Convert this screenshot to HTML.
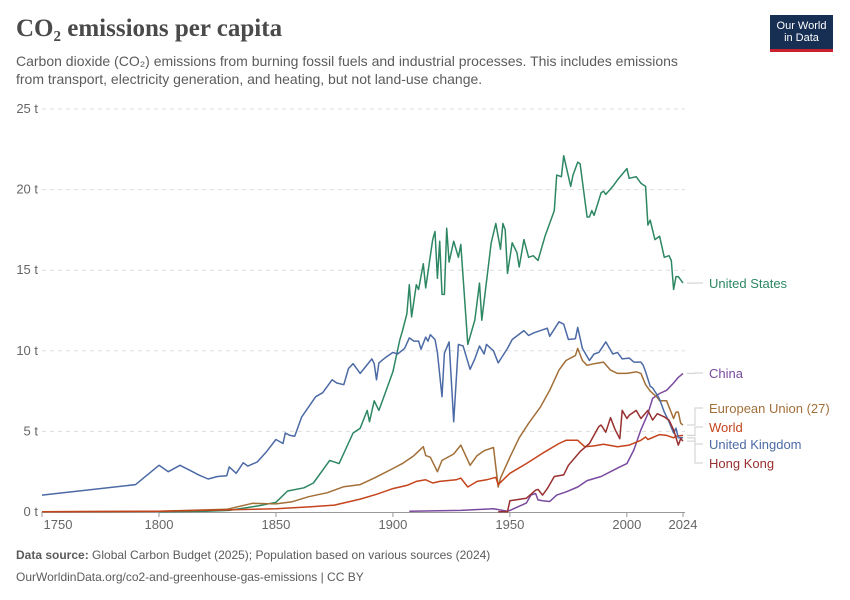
<!DOCTYPE html>
<html><head><meta charset="utf-8">
<style>
body{margin:0;width:850px;height:600px;background:#fff;font-family:"Liberation Sans",sans-serif;overflow:hidden;position:relative}
.title{position:absolute;left:16px;top:15px;font-family:"Liberation Serif",serif;font-size:25px;font-weight:bold;color:#4a4a4a}
.sub{position:absolute;left:16px;top:52px;font-size:14px;line-height:18px;color:#5b5b5b;width:692px}
.logo{position:absolute;left:770px;top:15px;width:63px;height:37px;background:#172f52;border-bottom:3px solid #c8202f;color:#fff;font-size:11px;line-height:12px;text-align:center;padding-top:5px;box-sizing:border-box}
.foot{position:absolute;left:16px;font-size:12px;color:#5b5b5b}
</style></head><body>
<div class="title">CO₂ emissions per capita</div>
<div class="sub">Carbon dioxide (CO₂) emissions from burning fossil fuels and industrial processes. This includes emissions from transport, electricity generation, and heating, but not land-use change.</div>
<div class="logo">Our World<br>in Data</div>
<div class="foot" style="top:548px"><b>Data source:</b> Global Carbon Budget (2025); Population based on various sources (2024)</div>
<div class="foot" style="top:570px">OurWorldinData.org/co2-and-greenhouse-gas-emissions | CC BY</div>
<svg id="chart" width="850" height="600" style="position:absolute;left:0;top:0"></svg>
<script>
const yTicks=[0,5,10,15,20,25];
const xTicks=[1750,1800,1850,1900,1950,2000,2024];
const usYears=[1800,1820,1830,1843,1850,1855,1862,1866,1873,1877,1883,1886,1889,1890,1892,1894,1896,1900,1903,1904,1906,1907,1908,1910,1911,1913,1914,1917,1918,1919,1920,1921,1922,1923,1924,1926,1928,1929,1932,1935,1937,1938,1942,1944,1946,1947,1948,1949,1951,1953,1954,1956,1958,1960,1962,1965,1969,1970,1972,1973,1976,1977,1979,1980,1983,1984,1985,1986,1989,1990,1991,1994,1996,2000,2001,2004,2006,2008,2009,2010,2012,2014,2016,2018,2019,2020,2021,2022,2024];
const usVals=[0.02,0.05,0.1,0.4,0.6,1.3,1.5,1.8,3.2,3.0,4.9,5.2,6.3,5.6,6.9,6.3,7.1,8.7,10.7,11.2,12.3,14.1,12.1,14.1,13.8,15.4,13.9,16.9,17.4,14.5,16.8,13.5,13.5,17.6,15.5,16.8,15.8,16.6,10.4,11.9,14.2,11.9,16.7,17.9,16.3,17.9,17.5,14.8,16.7,16.1,15.2,16.9,15.8,15.9,15.6,17.1,18.7,20.9,20.8,22.1,20.2,20.9,21.7,21.6,18.3,18.3,18.7,18.4,19.8,19.9,19.7,20.2,20.6,21.3,20.7,20.8,20.4,20.2,17.8,18.1,16.9,17.1,15.8,15.9,15.6,13.8,14.6,14.6,14.2];
const ukYears=[1750,1790,1800,1804,1809,1813,1817,1821,1825,1829,1830,1833,1836,1838,1842,1846,1850,1853,1854,1856,1858,1861,1867,1870,1874,1876,1879,1881,1883,1886,1891,1892,1893,1894,1897,1900,1902,1905,1907,1909,1911,1912,1914,1915,1916,1918,1919,1921,1922,1924,1926,1928,1930,1933,1935,1937,1939,1940,1943,1945,1949,1951,1956,1958,1960,1966,1967,1971,1973,1975,1978,1979,1981,1984,1986,1988,1991,1994,1996,1998,2001,2003,2006,2007,2008,2010,2011,2013,2014,2016,2018,2020,2021,2022,2024];
const ukVals=[1.05,1.7,2.9,2.5,2.9,2.6,2.3,2.05,2.2,2.25,2.8,2.4,3.05,2.85,3.1,3.75,4.5,4.25,4.9,4.75,4.7,5.9,7.15,7.4,8.2,8.0,7.9,8.9,9.2,8.6,9.5,9.2,8.2,9.25,9.6,9.9,9.8,10.15,10.8,10.6,10.6,10.1,10.85,10.6,11,10.7,9.9,7.15,9.85,10.55,5.6,10.4,10.3,8.85,9.5,10.3,9.8,10.4,10.0,9.25,10.15,10.7,11.25,10.95,11.1,11.4,10.9,11.8,11.65,10.7,10.75,11.45,10.15,9.4,9.8,9.9,10.55,9.8,9.9,9.5,9.55,9.3,9.3,9.1,8.7,7.8,7.7,7.25,7.0,6.2,5.6,4.9,5.2,4.6,4.6];
const euYears=[1750,1800,1829,1840,1850,1857,1864,1872,1879,1886,1892,1900,1904,1909,1913,1914,1916,1919,1921,1926,1929,1933,1936,1939,1943,1945,1946,1950,1954,1958,1963,1967,1971,1974,1978,1979,1981,1983,1986,1990,1993,1996,2000,2004,2006,2008,2010,2013,2014,2017,2020,2021,2022,2023,2024];
const euVals=[0.01,0.05,0.17,0.54,0.5,0.64,0.95,1.2,1.57,1.7,2.1,2.7,3.0,3.5,4.05,3.5,3.4,2.5,3.2,3.6,4.15,2.9,3.5,3.8,4.0,1.55,2.1,3.4,4.6,5.5,6.5,7.55,8.8,9.4,9.7,10.15,9.4,9.1,9.2,9.3,8.8,8.6,8.6,8.7,8.6,7.9,7.5,7.1,6.9,6.9,5.8,6.2,6.2,5.5,5.4];
const wYears=[1750,1800,1850,1865,1875,1886,1893,1900,1906,1910,1914,1917,1920,1927,1929,1932,1936,1940,1944,1945,1950,1957,1964,1971,1974,1979,1982,1986,1990,1996,2001,2006,2008,2009,2014,2017,2020,2021,2024];
const wVals=[0.01,0.05,0.2,0.33,0.43,0.8,1.1,1.45,1.65,1.9,2.0,1.8,1.9,2.0,2.1,1.55,1.9,2.0,2.15,1.7,2.4,3.0,3.65,4.25,4.45,4.45,4.05,4.1,4.2,4.05,4.15,4.45,4.65,4.5,4.8,4.75,4.6,4.7,4.75];
const cnYears=[1907,1929,1943,1949,1950,1957,1959,1961,1962,1964,1967,1970,1974,1979,1983,1989,1993,1997,2000,2003,2006,2009,2011,2014,2017,2020,2022,2024];
const cnVals=[0.05,0.1,0.2,0.05,0.1,0.55,1.05,1.15,0.75,0.7,0.65,1.05,1.25,1.55,1.95,2.2,2.5,2.8,3.0,3.85,5.1,6.1,7.05,7.35,7.55,8.0,8.35,8.6];
const hkYears=[1945,1949,1950,1957,1961,1962,1964,1966,1969,1973,1975,1980,1984,1988,1989,1991,1993,1995,1997,1998,2000,2001,2004,2006,2009,2011,2013,2016,2018,2020,2022,2023,2024];
const hkVals=[0.02,0.02,0.7,0.85,1.35,1.4,1.05,1.45,2.2,2.3,2.9,3.75,4.25,5.3,5.4,4.95,5.85,5.1,4.55,6.3,5.8,6.0,6.3,5.8,6.3,5.7,6.1,5.9,5.7,5.1,4.15,4.55,4.4];
const series=[
 {name:"United States",key:"us",years:usYears,vals:usVals,color:"#2d8763",ly:287},
 {name:"China",key:"china",years:cnYears,vals:cnVals,color:"#7a4a9f",ly:377},
 {name:"European Union (27)",key:"eu",years:euYears,vals:euVals,color:"#a26f39",ly:412},
 {name:"World",key:"world",years:wYears,vals:wVals,color:"#c4441c",ly:431},
 {name:"United Kingdom",key:"uk",years:ukYears,vals:ukVals,color:"#4c6aa5",ly:448},
 {name:"Hong Kong",key:"hong-kong",years:hkYears,vals:hkVals,color:"#98302f",ly:467}
];
const X=y=>42+(y-1750)*(641/274);
const Y=v=>512-v*16.12;
const svg=document.getElementById('chart');
const NS='http://www.w3.org/2000/svg';
function mk(t,a){const e=document.createElementNS(NS,t);for(const k in a)e.setAttribute(k,a[k]);svg.appendChild(e);return e;}
yTicks.forEach(v=>{
 if(v>0){const g=mk('line',{x1:42,x2:685,y1:Y(v),y2:Y(v),stroke:'#ddd','stroke-dasharray':'4,4'});
 
 }
 const t=mk('text',{x:38,y:Y(v)+4,'text-anchor':'end','font-size':13,fill:'#666','font-family':'Liberation Sans, sans-serif'});
 t.textContent=v+' t';
 
 
});
const ax=mk('line',{x1:42,x2:685,y1:512.5,y2:512.5,stroke:'#999'});


xTicks.forEach(yr=>{
 const tk=mk('line',{x1:X(yr),x2:X(yr),y1:512,y2:517,stroke:'#999'});
 
 
 const t=mk('text',{x:yr==1750?X(yr)+16:X(yr),y:529,'text-anchor':'middle','font-size':13,fill:'#666','font-family':'Liberation Sans, sans-serif'});
 t.textContent=yr;
 
 
});
series.forEach(s=>{
 const d=s.years.map((yr,i)=>(i?'L':'M')+X(yr).toFixed(1)+','+Y(s.vals[i]).toFixed(1)).join('');
 const p=mk('path',{d:d,fill:'none',stroke:s.color,'stroke-width':1.5,'stroke-linejoin':'round'});
 
 
 const ly=Y(s.vals[s.vals.length-1]);
 const c=mk('path',{d:`M687,${ly}H695V${s.ly-4}H703`,fill:'none',stroke:'#ccc'});
 
 
 const t=mk('text',{x:709,y:s.ly+1,'font-size':13,fill:s.color,'font-family':'Liberation Sans, sans-serif'});
 t.textContent=s.name;
 
 
});
</script>
</body></html>
